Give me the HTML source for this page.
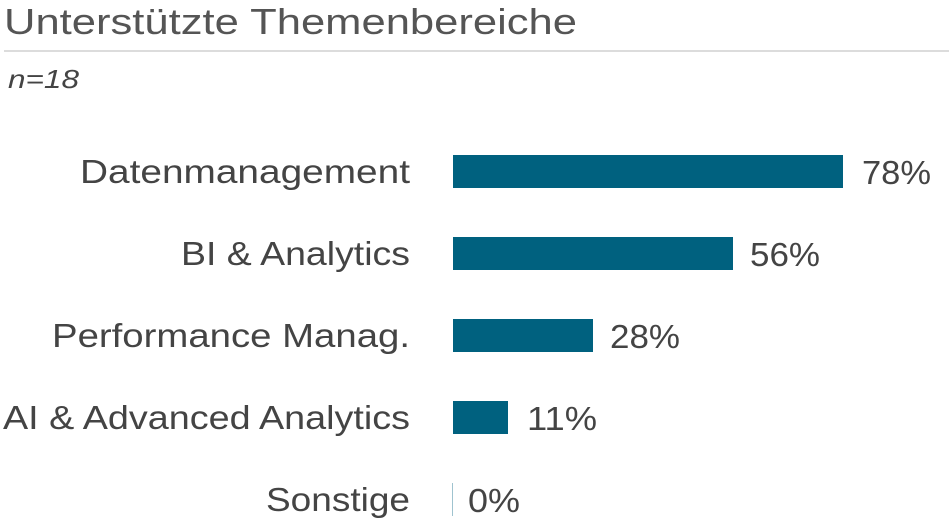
<!DOCTYPE html>
<html><head><meta charset="utf-8"><style>body{margin:0;background:#fff}svg{display:block}</style></head>
<body>
<svg width="949" height="524" xmlns="http://www.w3.org/2000/svg" font-family="Liberation Sans, sans-serif">
<text x="4" y="34" font-size="36" fill="#555" textLength="573" lengthAdjust="spacingAndGlyphs">Unterstützte Themenbereiche</text>
<line x1="4" y1="51" x2="949" y2="51" stroke="#dcdcdc" stroke-width="2"/>
<text x="8" y="88" font-size="26" font-style="italic" fill="#444" textLength="71" lengthAdjust="spacingAndGlyphs">n=18</text>
<g font-size="33" fill="#444">
<text x="80" y="183" textLength="330" lengthAdjust="spacingAndGlyphs">Datenmanagement</text>
<text x="181" y="265" textLength="229" lengthAdjust="spacingAndGlyphs">BI &amp; Analytics</text>
<text x="52" y="347" textLength="358" lengthAdjust="spacingAndGlyphs">Performance Manag.</text>
<text x="3" y="429" textLength="407" lengthAdjust="spacingAndGlyphs">AI &amp; Advanced Analytics</text>
<text x="266" y="511" textLength="144" lengthAdjust="spacingAndGlyphs">Sonstige</text>
<text x="862" y="184" textLength="69" lengthAdjust="spacingAndGlyphs">78%</text>
<text x="750" y="266" textLength="70" lengthAdjust="spacingAndGlyphs">56%</text>
<text x="610" y="348" textLength="70" lengthAdjust="spacingAndGlyphs">28%</text>
<text x="527" y="430" textLength="70" lengthAdjust="spacingAndGlyphs">11%</text>
<text x="468" y="512" textLength="52" lengthAdjust="spacingAndGlyphs">0%</text>
</g>
<g fill="#00617f">
<rect x="453" y="155" width="390" height="33"/>
<rect x="453" y="237" width="280" height="33"/>
<rect x="453" y="319" width="140" height="33"/>
<rect x="453" y="401" width="55" height="33"/>
<rect x="452" y="483" width="1" height="33" fill="#9fc3cf"/>
</g>
</svg>
</body></html>
